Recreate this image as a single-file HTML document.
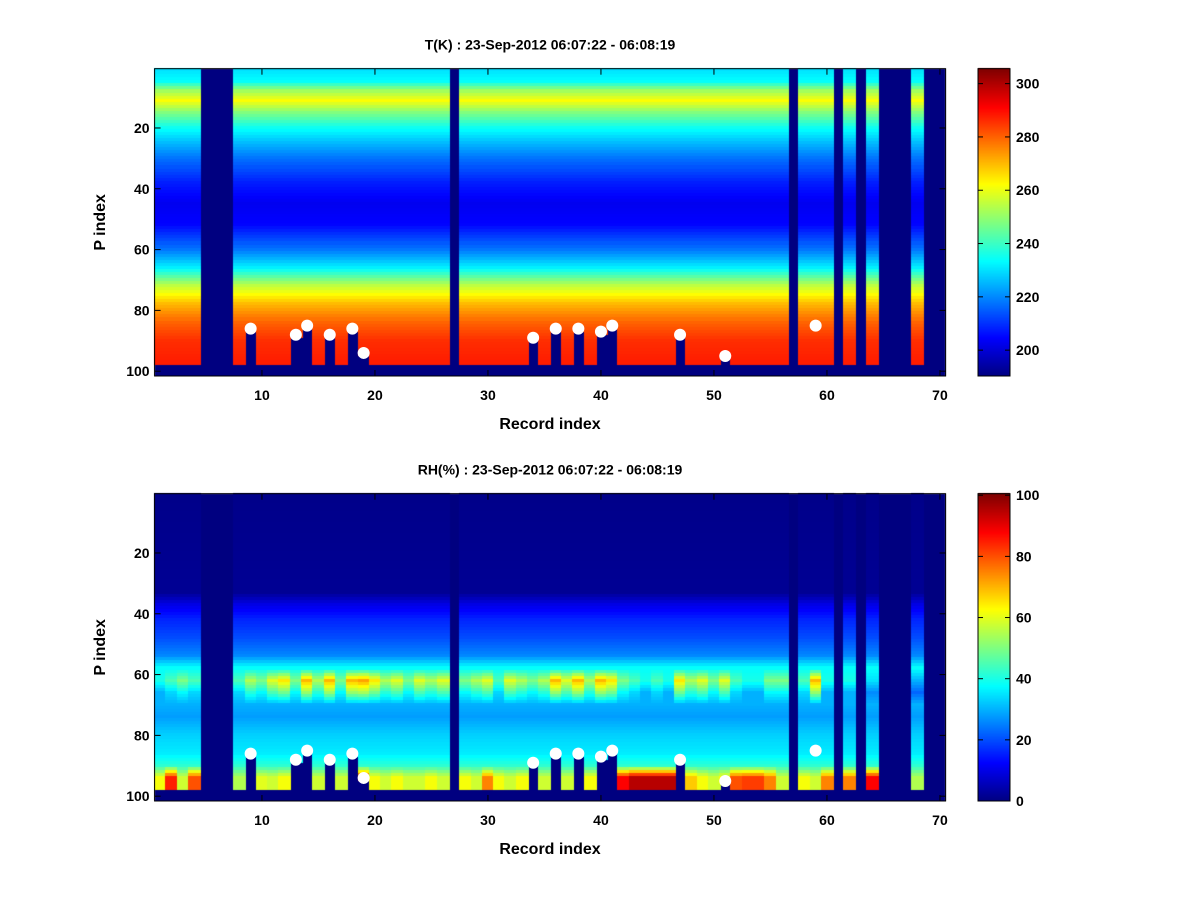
<!DOCTYPE html>
<html><head><meta charset="utf-8">
<style>
body{margin:0;background:#fff;width:1200px;height:900px;overflow:hidden;font-family:"Liberation Sans",sans-serif;}
svg text{font-family:"Liberation Sans",sans-serif;font-weight:bold;fill:#000;}
canvas{position:absolute;}
</style></head>
<body>
<canvas id="c" width="1200" height="900" style="left:0;top:0"></canvas>
<svg id="s" width="1200" height="900" style="position:absolute;left:0;top:0"></svg>
<script>
// ---- data ----
const records = Array.from({length:70},(_,i)=>i+1);
const missingCols = [5,6,7,27,57,61,63,65,66,67,69,70];
const tLevels = [1,5,8,11,15,20,25,30,38,45,52,60,66,72,78,84,90,97];
const tValues = [230,234,252,262,248,235,226,218,208,203,205,218,232,255,270,280,286,288];
const rhLevels = [1,33,37,42,48,54,58,62,66,70,74,80,86,90,94,97];
const rhValues = [1,2,10,16,20,26,38,60,45,30,28,33,36,42,62,62];
const rhMid = [40,45,50,45,0,0,0,45,55,50,60,65,50,70,55,70,50,70,72,65,55,60,50,60,55,60,0,50,55,60,45,60,55,50,55,70,60,70,55,70,65,50,45,40,45,40,65,55,60,50,60,45,40,40,50,50,0,45,70,40,0,40,0,35,0,0,0,30,0,0];
const rhBot = [62,85,58,80,0,0,0,55,60,60,58,62,66,66,58,62,58,66,85,62,58,62,58,58,62,58,0,62,58,75,62,58,62,58,58,62,58,62,62,68,75,88,95,95,95,95,90,68,62,58,62,80,82,82,75,58,0,62,58,75,0,75,0,88,0,0,0,55,0,0];
const dotRecords = [9,13,14,16,18,19,34,36,38,40,41,47,51,59];
const dotP = [86,88,85,88,86,94,89,86,86,87,85,88,95,85];
const xTicks=[10,20,30,40,50,60,70];
const yTicks=[20,40,60,80,100];
const tBarTicks=[200,220,240,260,280,300];
const rhBarTicks=[0,20,40,60,80,100];

// ---- geometry ----
const X0=154.6, DX=11.3;
const panels=[{top:68.7,bottom:376,title:"T(K) : 23-Sep-2012 06:07:22 - 06:08:19",cmin:190.3,cmax:305.6,ticks:tBarTicks,kind:'t'},
              {top:493.7,bottom:801,title:"RH(%) : 23-Sep-2012 06:07:22 - 06:08:19",cmin:0,cmax:100.5,ticks:rhBarTicks,kind:'rh'}];
const DY=3.04;
function xs(r){return X0+(r-0.5)*DX;}
function interp(L,V,p){if(p<=L[0])return V[0];for(let i=1;i<L.length;i++){if(p<=L[i]){const t=(p-L[i-1])/(L[i]-L[i-1]);return V[i-1]+t*(V[i]-V[i-1]);}}return V[V.length-1];}
function jet(v){v=Math.max(0,Math.min(1,v));const f=x=>Math.max(0,Math.min(1,x));
 const r=f(1.5-Math.abs(4*v-3)),g=f(1.5-Math.abs(4*v-2)),b=f(1.5-Math.abs(4*v-1));
 return `rgb(${Math.round(r*255)},${Math.round(g*255)},${Math.round(b*255)})`;}
const ctx=document.getElementById('c').getContext('2d');
const svg=document.getElementById('s');
const NS="http://www.w3.org/2000/svg";
function add(tag,attrs,name,txt){const e=document.createElementNS(NS,tag);for(const k in attrs)e.setAttribute(k,attrs[k]);
 
 
 if(txt!==undefined)e.textContent=txt;svg.appendChild(e);return e;}

panels.forEach((P,pi)=>{
 const ys=p=>P.top+(p-0.5)*DY;
 const x1=xs(0.5),x2=xs(70.5);
 ctx.fillStyle=jet(0);ctx.fillRect(x1,P.top,x2-x1,P.bottom-P.top);
 records.forEach((r,ci)=>{
  if(missingCols.includes(r))return;
  const di=dotRecords.indexOf(r);
  let endP=97; if(di>=0 && r!==59) endP=dotP[di];
  for(let p=1;p<=endP;p++){
   let v;
   if(P.kind==='t') v=interp(tLevels,tValues,p);
   else{const vals=rhValues.slice();vals[7]=rhMid[ci];vals[14]=rhBot[ci];vals[15]=rhBot[ci];vals[8]=rhMid[ci]*0.75;v=interp(rhLevels,vals,p);}
   ctx.fillStyle=jet((v-P.cmin)/(P.cmax-P.cmin));
   ctx.fillRect(Math.floor(xs(r-0.5)),Math.floor(ys(p-0.5)),Math.ceil(DX)+1,Math.ceil(DY)+1);
  }
 });
 const cbx=978,cbw=32;
 for(let y=Math.floor(P.top);y<P.bottom;y++){ctx.fillStyle=jet(1-(y-P.top)/(P.bottom-P.top));ctx.fillRect(cbx,y,cbw,1);}
 add('rect',{x:cbx,y:P.top,width:cbw,height:P.bottom-P.top,fill:'none',stroke:'#000'},'colorbar-'+P.kind);
 P.ticks.forEach(t=>{const y=P.bottom-(t-P.cmin)/(P.cmax-P.cmin)*(P.bottom-P.top);
  add('line',{x1:cbx+cbw,x2:cbx+cbw-5,y1:y,y2:y,stroke:'#000'},'colorbar-tick');
  add('line',{x1:cbx,x2:cbx+5,y1:y,y2:y,stroke:'#000'},'colorbar-tick');
  add('text',{x:cbx+cbw+6,y:y+5,'font-size':'14'},'colorbar-tick-label',String(t));});
 add('rect',{x:x1,y:P.top,width:x2-x1,height:P.bottom-P.top,fill:'none',stroke:'#000'},'plot-frame-'+P.kind);
 xTicks.forEach(t=>{const x=xs(t);
  add('line',{x1:x,x2:x,y1:P.bottom,y2:P.bottom-6,stroke:'#000'},'x-tick');
  add('line',{x1:x,x2:x,y1:P.top,y2:P.top+6,stroke:'#000'},'x-tick');
  add('text',{x:x,y:P.bottom+24,'font-size':'14','text-anchor':'middle'},'x-tick-label',String(t));});
 yTicks.forEach(t=>{const y=ys(t);
  add('line',{x1:x1,x2:x1+6,y1:y,y2:y,stroke:'#000'},'y-tick');
  add('line',{x1:x2,x2:x2-6,y1:y,y2:y,stroke:'#000'},'y-tick');
  add('text',{x:x1-5,y:y+5,'font-size':'14','text-anchor':'end'},'y-tick-label',String(t));});
 add('text',{x:550,y:P.bottom+53,'font-size':'16','text-anchor':'middle'},'x-axis-title','Record index');
 add('text',{x:105,y:(P.top+P.bottom)/2,'font-size':'16','text-anchor':'middle',transform:`rotate(-90 105 ${(P.top+P.bottom)/2})`},'y-axis-title','P index');
 add('text',{x:550,y:P.top-19,'font-size':'14','text-anchor':'middle'},'chart-title-'+P.kind,P.title);
 dotRecords.forEach((r,i)=>{add('circle',{cx:xs(r),cy:ys(dotP[i]),r:6,fill:'#fff'},'surface-marker');});
});
</script>
</body></html>
